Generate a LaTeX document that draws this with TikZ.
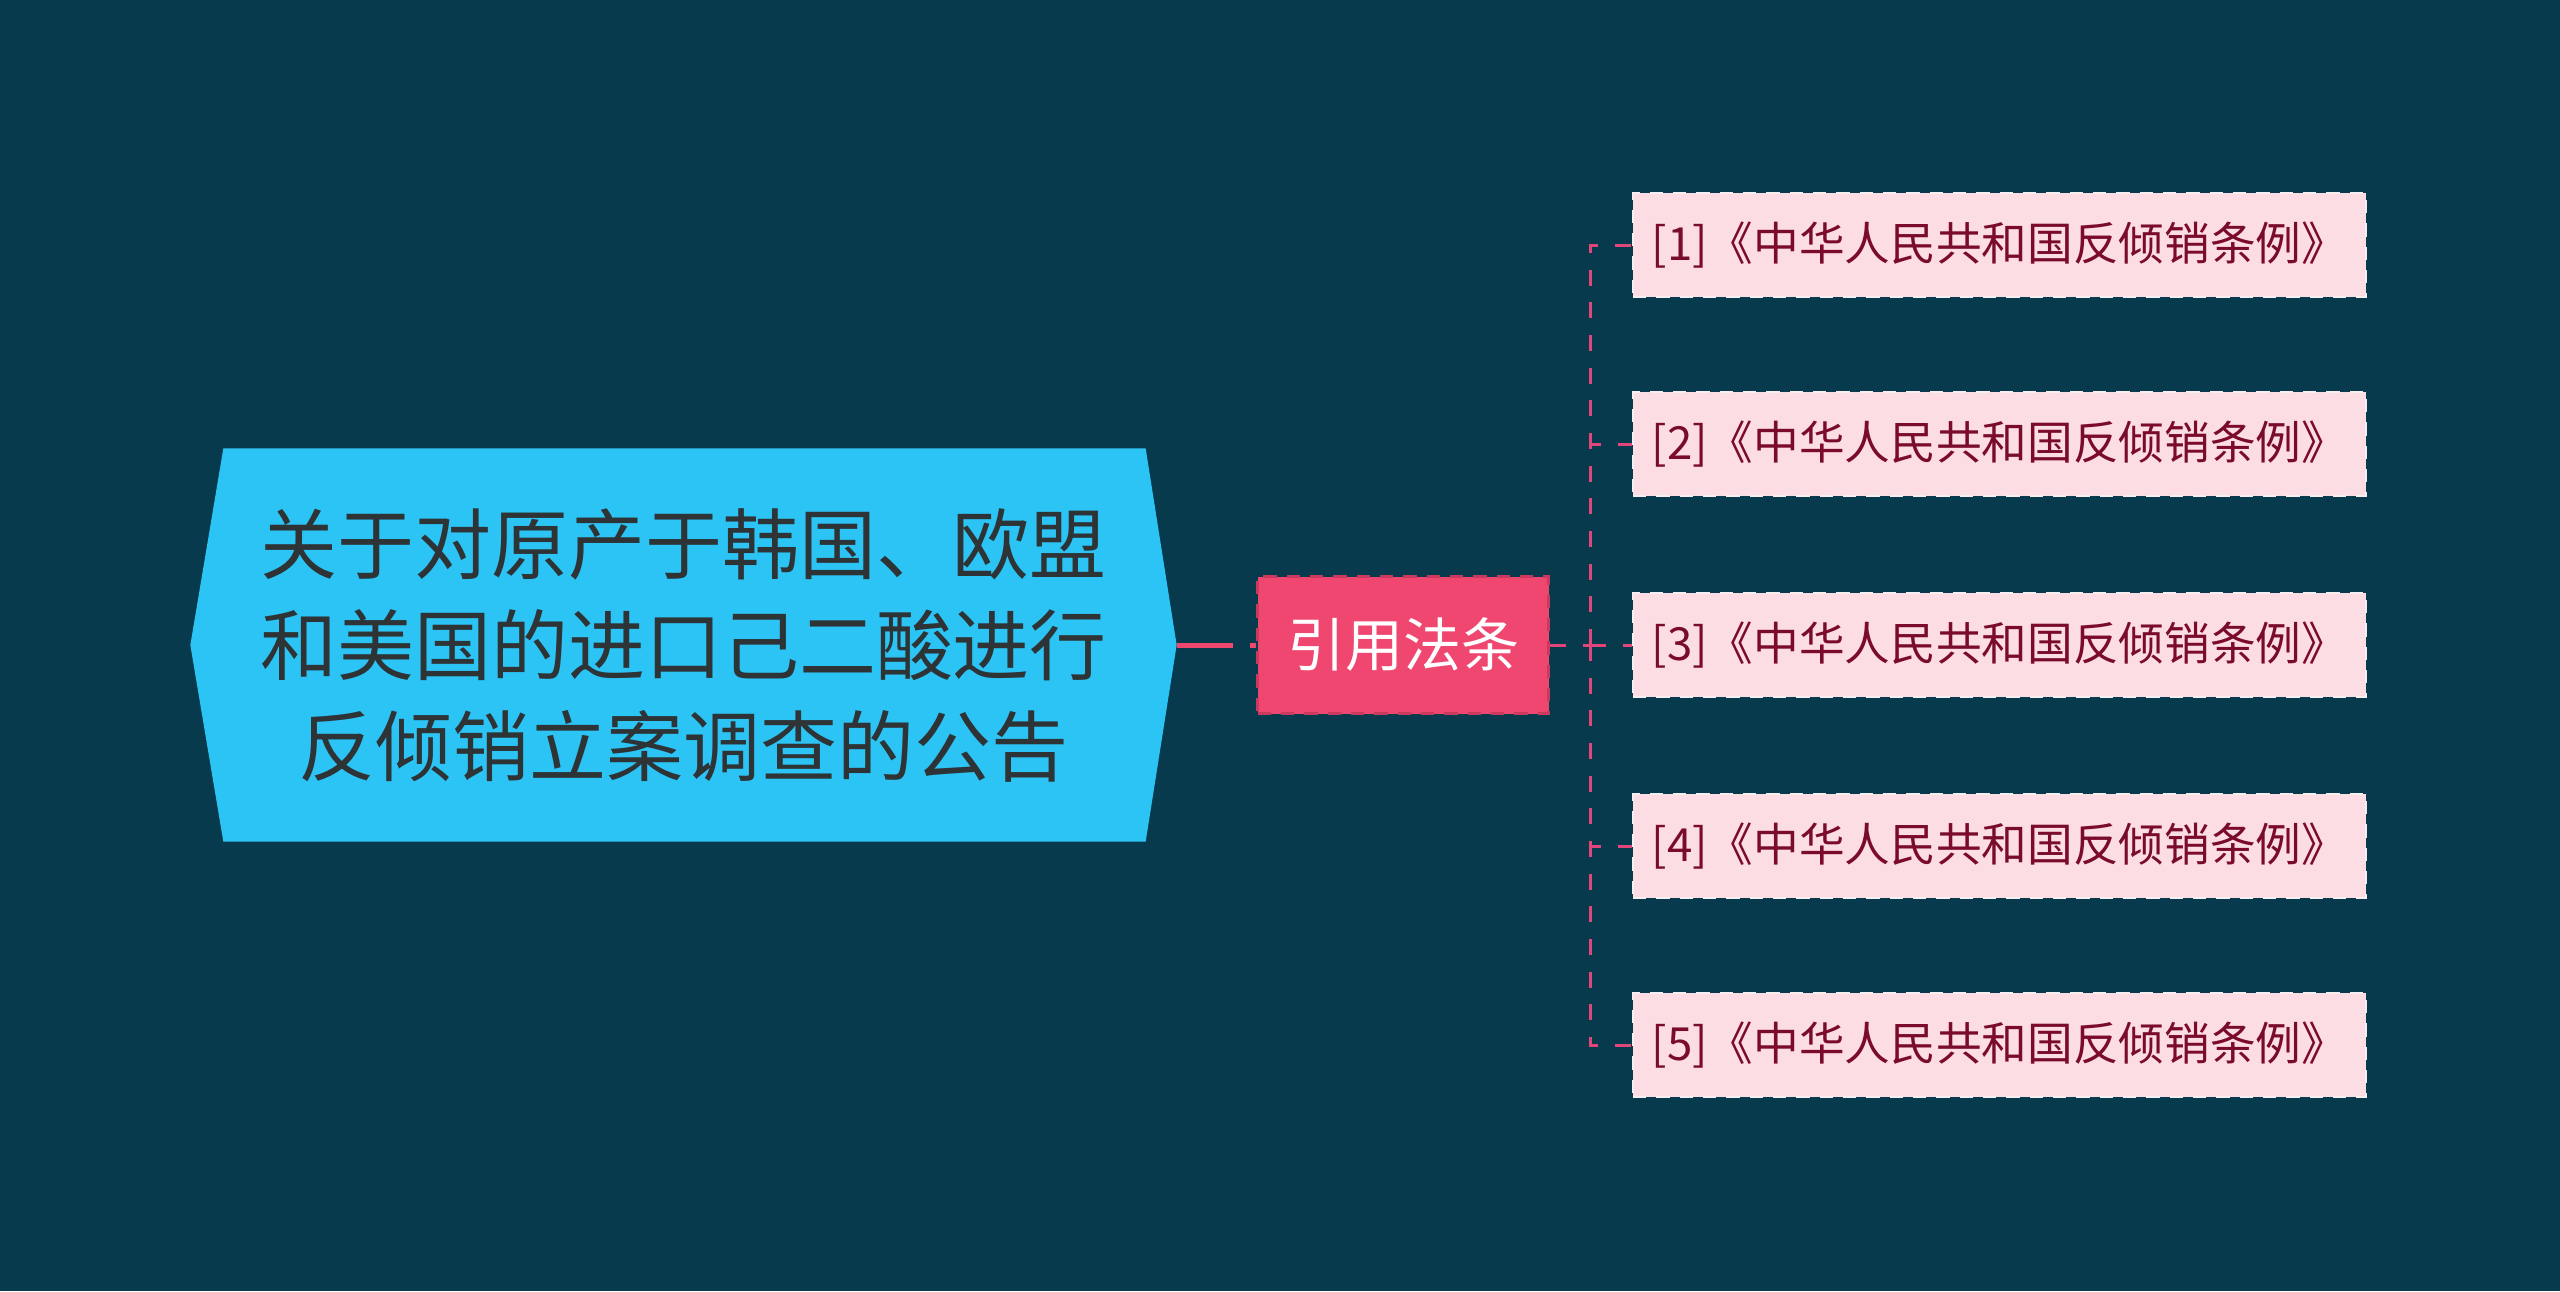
\documentclass[tikz,border=0pt]{standalone}
\usepackage{fontspec}
\newfontfamily\cjk{Noto Sans CJK SC}
\usetikzlibrary{backgrounds}
\definecolor{bg}{HTML}{073A4D}
\definecolor{mainfill}{HTML}{2CC4F4}
\definecolor{maintext}{HTML}{2E3336}
\definecolor{midfill}{HTML}{EF476F}
\definecolor{midborder}{HTML}{C93A5E}
\definecolor{leaffill}{HTML}{FCDDE4}
\definecolor{leafborder}{HTML}{F7EEF1}
\definecolor{leaftext}{HTML}{7A0B2B}
\definecolor{linkcol}{HTML}{E0467A}
\begin{document}
\begin{tikzpicture}[x=0.3pt,y=-0.3pt,
  mainbox/.style={inner sep=0pt, minimum width=295.5pt, minimum height=117.6pt,
    align=center, text=maintext, font=\cjk\fontsize{23.1pt}{30.3pt}\selectfont},
  midbox/.style={inner sep=0pt, minimum width=87.3pt, minimum height=41.1pt,
    fill=midfill, draw=midborder, line width=0.8pt, dash pattern=on 4pt off 3pt,
    text=white, font=\cjk\fontsize{17.4pt}{20pt}\selectfont},
  leafbox/.style={inner sep=0pt, minimum width=219.9pt, minimum height=31.2pt,
    fill=leaffill, draw=leafborder, line width=0.8pt, dash pattern=on 4pt off 3pt,
    text=leaftext, font=\cjk\fontsize{13.7pt}{16pt}\selectfont},
  thicklink/.style={draw=midfill, line width=1.5pt, dash pattern=on 17pt off 5pt},
  thinlink/.style={draw=linkcol, line width=0.9pt, dash pattern=on 4.8pt off 5pt}]
\useasboundingbox (0,0) rectangle (2560,1291);
\node[mainbox] (main) at (683.5,645) {关于对原产于韩国、欧盟\\和美国的进口己二酸进行\\反倾销立案调查的公告};
\node[midbox] (mid) at (1403,645) {引用法条};
\node[leafbox] (l1) at (1999.5,245) {[1]《中华人民共和国反倾销条例》};
\node[leafbox] (l2) at (1999.5,444) {[2]《中华人民共和国反倾销条例》};
\node[leafbox] (l3) at (1999.5,645) {[3]《中华人民共和国反倾销条例》};
\node[leafbox] (l4) at (1999.5,846) {[4]《中华人民共和国反倾销条例》};
\node[leafbox] (l5) at (1999.5,1045) {[5]《中华人民共和国反倾销条例》};
\begin{scope}[on background layer]
  \fill[bg] (0,0) rectangle (2560,1291);
  \fill[mainfill] (main.west) -- ([xshift=9.9pt]main.north west) -- ([xshift=-9.3pt]main.north east)
    -- (main.east) -- ([xshift=-9.3pt]main.south east) -- ([xshift=9.9pt]main.south west) -- cycle;
  \draw[thicklink] (main.east) -- (mid.west);
  \coordinate (hub) at (1590,645);
  \draw[thinlink] (mid.east) -- (hub);
  \foreach \i in {1,...,5} {\draw[thinlink] (hub) |- (l\i.west);}
\end{scope}
\end{tikzpicture}
\end{document}
